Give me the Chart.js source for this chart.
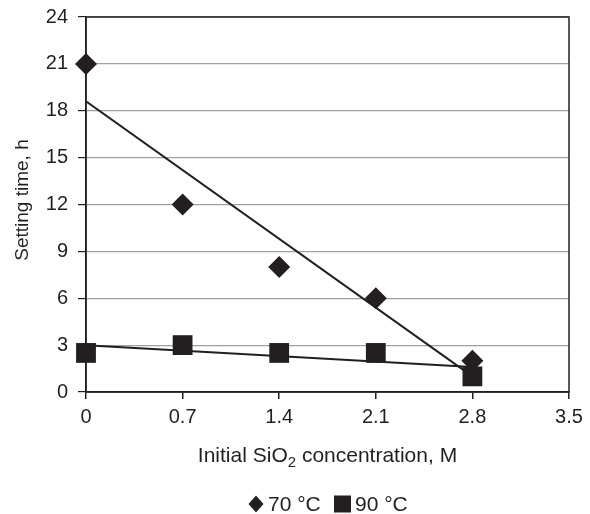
<!DOCTYPE html>
<html>
<head>
<meta charset="utf-8">
<script src="https://cdn.jsdelivr.net/npm/chart.js@4/dist/chart.umd.min.js"></script>
<style>
  html, body { margin: 0; padding: 0; background: #fff; }
  #wrap { width: 590px; height: 514px; }
</style>
</head>
<body>
<div id="wrap"><canvas id="chart" width="590" height="514"></canvas></div>
<script>
/* data ------------------------------------------------------------ */
const concentrations = [0, 0.7, 1.4, 2.1, 2.8];
const time70 = [21, 12, 8, 6, 2];
const time90 = [2.5, 3, 2.5, 2.5, 1];

// trend lines: end points
const trendX   = [0, 2.8];
const trend70  = [18.6, 1.0];
const trend90  = [3.0, 1.6];

const xTicks = [0, 0.7, 1.4, 2.1, 2.8, 3.5];
const yTicks = [0, 3, 6, 9, 12, 15, 18, 21, 24];

const ink  = '#231f20';
const font = 'Liberation Sans, Arial, sans-serif';

const pts = (xs, ys) => xs.map((x, i) => ({ x, y: ys[i] }));

/* titles + legend drawn by hand (subscript in x title) ------------- */
const decor = {
  id: 'decor',
  afterDraw(chart) {
    const { ctx, chartArea: a } = chart;
    ctx.save();
    ctx.fillStyle = ink;
    ctx.strokeStyle = ink;

    // frame round plot area
    ctx.lineWidth = 1.5;
    ctx.strokeRect(a.left, a.top, a.right - a.left, a.bottom - a.top);

    // y title
    ctx.font = `19px ${font}`;
    ctx.save();
    ctx.translate(23, 200);
    ctx.rotate(-Math.PI / 2);
    ctx.textAlign = 'center';
    ctx.textBaseline = 'middle';
    ctx.fillText('Setting time, h', 0, 0);
    ctx.restore();

    // x title with subscript
    const parts = [['Initial SiO', 21, 0], ['2', 15, 7], [' concentration, M', 21, 0]];
    let w = 0;
    parts.forEach(([t, s]) => { ctx.font = `${s}px ${font}`; w += ctx.measureText(t).width; });
    let x = (a.left + a.right) / 2 - w / 2;
    const y = 456;
    ctx.textBaseline = 'middle';
    ctx.textAlign = 'left';
    parts.forEach(([t, s, dy]) => {
      ctx.font = `${s}px ${font}`;
      ctx.fillText(t, x, y + dy);
      x += ctx.measureText(t).width;
    });

    // legend
    const ly = 504;
    ctx.font = `21px ${font}`;
    ctx.beginPath();
    ctx.moveTo(256, ly - 8.5); ctx.lineTo(263.5, ly); ctx.lineTo(256, ly + 8.5); ctx.lineTo(248.5, ly);
    ctx.closePath(); ctx.fill();
    ctx.fillText('70 °C', 268, ly + 1);
    ctx.fillRect(334, ly - 8.5, 17, 17);
    ctx.fillText('90 °C', 355, ly + 1);

    ctx.restore();
  }
};

new Chart(document.getElementById('chart'), {
  type: 'scatter',
  data: {
    datasets: [
      { label: 'trend 70', data: pts(trendX, trend70), showLine: true,
        borderColor: ink, borderWidth: 2, pointRadius: 0 },
      { label: 'trend 90', data: pts(trendX, trend90), showLine: true,
        borderColor: ink, borderWidth: 2, pointRadius: 0 },
      { label: '70 °C', data: pts(concentrations, time70), pointStyle: 'rectRot', clip: false,
        pointRadius: 11, backgroundColor: ink, borderColor: ink, borderWidth: 0 },
      { label: '90 °C', data: pts(concentrations, time90), pointStyle: 'rect', clip: false,
        pointRadius: 14, backgroundColor: ink, borderColor: ink, borderWidth: 0 }
    ]
  },
  options: {
    responsive: false,
    animation: false,
    layout: { padding: { left: 0, top: 17, right: 21, bottom: 0 } },
    plugins: { legend: { display: false }, tooltip: { enabled: false } },
    scales: {
      x: {
        type: 'linear', min: 0, max: 3.5,
        afterFit: s => { s.height = 122; s.paddingLeft = 0; s.paddingRight = 0; },
        afterBuildTicks: s => { s.ticks = xTicks.map(v => ({ value: v })); },
        grid: { drawOnChartArea: false, color: ink, tickLength: 7, lineWidth: 1.5 },
        border: { color: ink, width: 1.5 },
        ticks: { color: ink, font: { family: font, size: 20 }, padding: 6,
                 maxRotation: 0, callback: v => String(v) }
      },
      y: {
        type: 'linear', min: 0, max: 24,
        afterFit: s => { s.width = 86; s.paddingTop = 0; s.paddingBottom = 0; },
        afterBuildTicks: s => { s.ticks = yTicks.map(v => ({ value: v })); },
        grid: { color: '#a0a0a0', lineWidth: 1.2, tickColor: ink, tickLength: 8 },
        border: { color: ink, width: 1.5 },
        ticks: { color: ink, font: { family: font, size: 20 }, padding: 10 }
      }
    }
  },
  plugins: [decor]
});
</script>
</body>
</html>
